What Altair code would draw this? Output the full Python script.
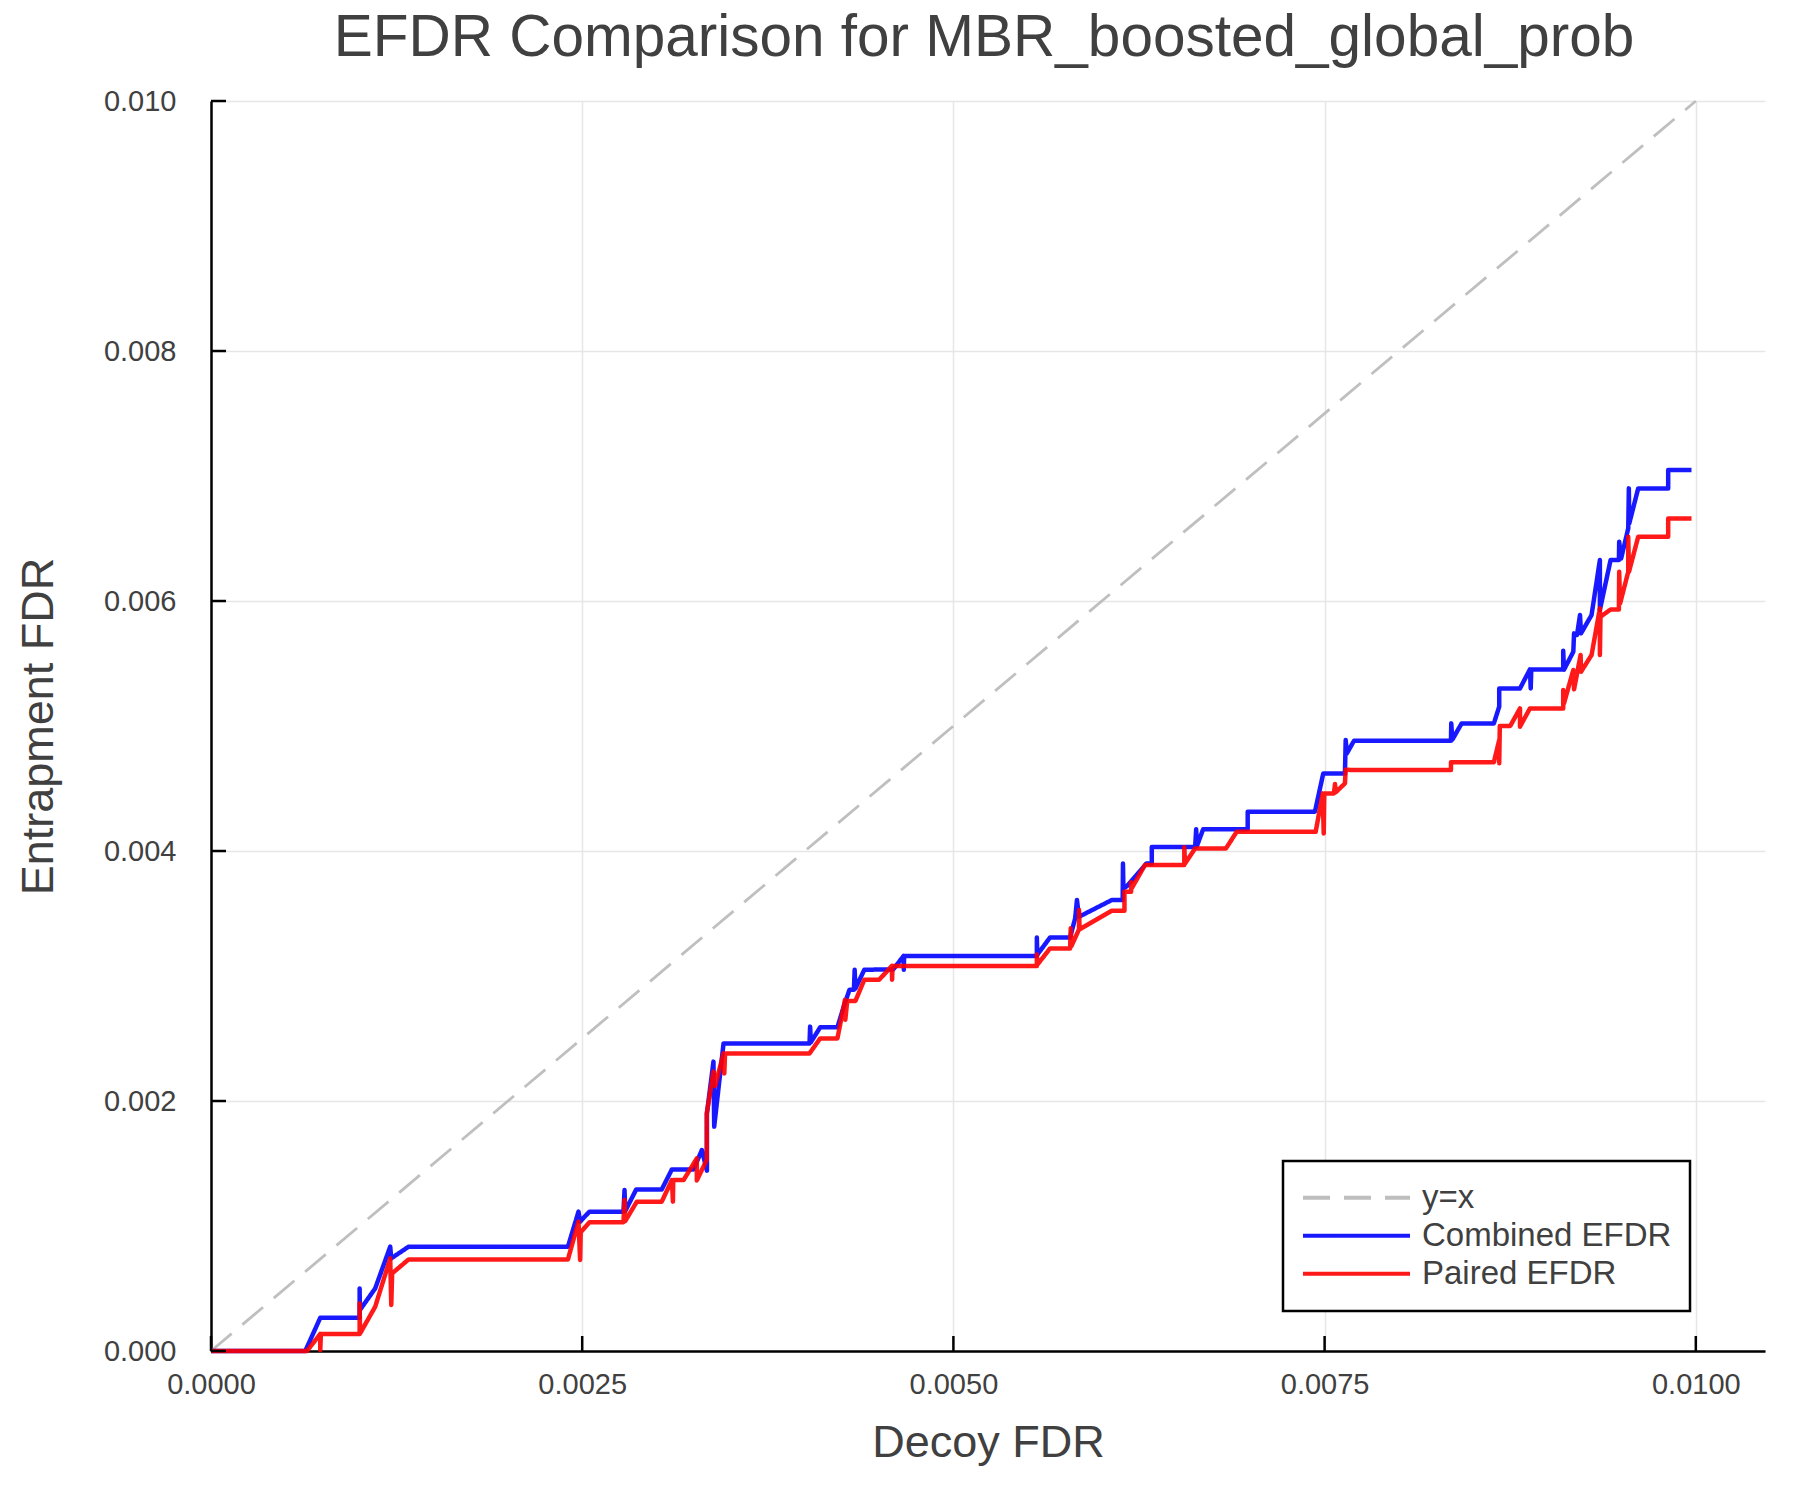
import altair as alt
import pandas as pd

# ---- data ----
combined_x = [0, 0.000635, 0.000736, 0.001001, 0.001001, 0.001003, 0.001106, 0.001207, 0.001214, 0.001331,
              0.002404, 0.002475, 0.002486, 0.002549, 0.002778, 0.002785, 0.002790, 0.002864, 0.003036, 0.003104,
              0.003250, 0.003306, 0.003340, 0.003340, 0.003384, 0.003389, 0.003452, 0.004031, 0.004035, 0.004040,
              0.004103, 0.004219, 0.004260, 0.004300, 0.004330, 0.004335, 0.004340, 0.004400, 0.004595, 0.004664,
              0.004666, 0.004668, 0.005562, 0.005562, 0.005565, 0.005651, 0.005786, 0.005820, 0.005832, 0.005846,
              0.006067, 0.006140, 0.006142, 0.006145, 0.006170, 0.006300, 0.006336, 0.006336, 0.006628, 0.006635,
              0.006640, 0.006682, 0.006982, 0.006982, 0.007435, 0.007491, 0.007637, 0.007642, 0.007650, 0.007698,
              0.008351, 0.008353, 0.008360, 0.008423, 0.008640, 0.008676, 0.008676, 0.008816, 0.008883, 0.008888,
              0.008892, 0.009107, 0.009107, 0.009112, 0.009175, 0.009180, 0.009200, 0.009220, 0.009227, 0.009298,
              0.009354, 0.009354, 0.009426, 0.009482, 0.009484, 0.009497, 0.009545, 0.009549, 0.009552, 0.009612,
              0.009814, 0.009814, 0.009971]
combined_y = [0, 0, 0.000266, 0.000266, 0.000501, 0.000328, 0.000501, 0.000835, 0.000741, 0.000835,
              0.000835, 0.001115, 0.001035, 0.001115, 0.001115, 0.001288, 0.001120, 0.001293, 0.001293, 0.001453,
              0.001453, 0.001608, 0.001443, 0.001901, 0.002315, 0.001795, 0.002461, 0.002461, 0.002595, 0.002470,
              0.002590, 0.002590, 0.002750, 0.002890, 0.002890, 0.003050, 0.002900, 0.003050, 0.003053, 0.003160,
              0.003050, 0.003160, 0.003160, 0.003309, 0.003170, 0.003309, 0.003309, 0.003461, 0.003608, 0.003474,
              0.003608, 0.003608, 0.003900, 0.003700, 0.003720, 0.003900, 0.003900, 0.004032, 0.004032, 0.004174,
              0.004040, 0.004174, 0.004174, 0.004315, 0.004315, 0.004621, 0.004621, 0.004888, 0.004781, 0.004882,
              0.004882, 0.005021, 0.004890, 0.005021, 0.005021, 0.005155, 0.005301, 0.005301, 0.005453, 0.005300,
              0.005453, 0.005453, 0.005602, 0.005450, 0.005594, 0.005741, 0.005728, 0.005888, 0.005741, 0.005888,
              0.006328, 0.005928, 0.006328, 0.006328, 0.006474, 0.006340, 0.006581, 0.006901, 0.006621, 0.006901,
              0.006901, 0.007048, 0.007048]

paired_x = [0, 0.000646, 0.000736, 0.000736, 0.000740, 0.001001, 0.001001, 0.001004, 0.001106, 0.001207,
            0.001214, 0.001220, 0.001331, 0.002404, 0.002475, 0.002486, 0.002490, 0.002549, 0.002778, 0.002785,
            0.002790, 0.002868, 0.003036, 0.003104, 0.003111, 0.003113, 0.003183, 0.003272, 0.003272, 0.003339,
            0.003339, 0.003384, 0.003395, 0.003452, 0.003457, 0.003462, 0.004031, 0.004103, 0.004219, 0.004270,
            0.004272, 0.004285, 0.004340, 0.004400, 0.004500, 0.004585, 0.004587, 0.004590, 0.005562, 0.005562,
            0.005565, 0.005651, 0.005786, 0.005790, 0.005795, 0.005846, 0.005846, 0.005850, 0.006067, 0.006152,
            0.006152, 0.006197, 0.006197, 0.006200, 0.006290, 0.006555, 0.006555, 0.006560, 0.006628, 0.006836,
            0.006908, 0.007440, 0.007487, 0.007494, 0.007498, 0.007563, 0.007570, 0.007575, 0.007637, 0.007642,
            0.007698, 0.008351, 0.008351, 0.008640, 0.008676, 0.008676, 0.008680, 0.008750, 0.008816, 0.008816,
            0.008883, 0.009107, 0.009107, 0.009112, 0.009175, 0.009180, 0.009224, 0.009227, 0.009298, 0.009354,
            0.009354, 0.009358, 0.009426, 0.009482, 0.009484, 0.009490, 0.009545, 0.009545, 0.009550, 0.009612,
            0.009814, 0.009814, 0.009971]
paired_y = [0, 0, 0.000136, 0.000008, 0.000136, 0.000136, 0.000381, 0.000140, 0.000355, 0.000741,
            0.000368, 0.000621, 0.000733, 0.000733, 0.001035, 0.000728, 0.000950, 0.001030, 0.001030, 0.001208,
            0.001040, 0.001195, 0.001195, 0.001368, 0.001195, 0.001368, 0.001368, 0.001541, 0.001365, 0.001530,
            0.001901, 0.002235, 0.002120, 0.002381, 0.002220, 0.002381, 0.002381, 0.002501, 0.002501, 0.002810,
            0.002650, 0.002800, 0.002800, 0.002970, 0.002970, 0.003080, 0.002970, 0.003080, 0.003080, 0.003173,
            0.003090, 0.003221, 0.003221, 0.003381, 0.003240, 0.003373, 0.003528, 0.003373, 0.003522, 0.003522,
            0.003674, 0.003674, 0.003750, 0.003700, 0.003888, 0.003888, 0.004030, 0.003900, 0.004021, 0.004021,
            0.004154, 0.004154, 0.004461, 0.004141, 0.004461, 0.004461, 0.004536, 0.004470, 0.004541, 0.004650,
            0.004648, 0.004648, 0.004710, 0.004710, 0.004888, 0.004703, 0.005000, 0.005000, 0.005141, 0.004995,
            0.005141, 0.005141, 0.005288, 0.005180, 0.005448, 0.005293, 0.005568, 0.005434, 0.005568, 0.005941,
            0.005568, 0.005874, 0.005932, 0.005932, 0.006234, 0.005980, 0.006234, 0.006514, 0.006234, 0.006514,
            0.006514, 0.006661, 0.006661]

diag_x = [0.0, 0.01]
diag_y = [0.0, 0.01]

series_names = ["y=x", "Combined EFDR", "Paired EFDR"]
series_colors = ["#b8b8b8", "#0000ff", "#ff0000"]
series_dash = [[27, 14], [1, 0], [1, 0]]

x_ticks = [0.0, 0.0025, 0.005, 0.0075, 0.01]
y_ticks = [0.0, 0.002, 0.004, 0.006, 0.008, 0.010]

x_domain = [0.0, 0.010466]
y_domain = [0.0, 0.01]

title_text = ["EFDR Comparison for MBR_boosted_global_prob"]

# ---- build table ----
rows = []
for name, xs, ys in [("y=x", diag_x, diag_y), ("Combined EFDR", combined_x, combined_y),
                     ("Paired EFDR", paired_x, paired_y)]:
    for i, (a, b) in enumerate(zip(xs, ys)):
        rows.append({"series": name, "x": a, "y": b, "idx": i})
df = pd.DataFrame(rows)

W, H = 1554, 1250
FONT = "Liberation Sans"
TXT = "#404040"

xscale = alt.Scale(domain=x_domain, nice=False, zero=False)
yscale = alt.Scale(domain=y_domain, nice=False, zero=False)

xaxis = alt.Axis(values=x_ticks, format=".4f", title="Decoy FDR", grid=True, ticks=False,
                 labelPadding=19, labelFontSize=29, titleFontSize=45, labelFlush=False,
                 titleY=105, titleBaseline="alphabetic")
yaxis = alt.Axis(values=y_ticks, format=".3f", title="Entrapment FDR", grid=True, ticks=False,
                 labelPadding=35, labelFontSize=29, titleFontSize=45, labelFlush=False,
                 titleX=-159, titleY=625, titleAngle=270, titleBaseline="alphabetic", titleAlign="center")

leg = alt.Legend(title=None, orient="none", legendX=1072, legendY=1060,
                 symbolType="stroke", symbolSize=11449, symbolStrokeWidth=4,
                 labelFontSize=33, labelLimit=600, clipHeight=37.7, rowPadding=0,
                 labelOffset=10, padding=18)
color = alt.Color("series:N", scale=alt.Scale(domain=series_names, range=series_colors), legend=leg)
dash = alt.StrokeDash("series:N", scale=alt.Scale(domain=series_names, range=series_dash), legend=leg)

base = alt.Chart(df).encode(
    x=alt.X("x:Q", scale=xscale, axis=xaxis),
    y=alt.Y("y:Q", scale=yscale, axis=yaxis),
    color=color,
    strokeDash=dash,
    order=alt.Order("idx:Q"),
)

diag = base.transform_filter(alt.datum.series == "y=x").mark_line(strokeWidth=2.8, opacity=0.9)
comb = base.transform_filter(alt.datum.series == "Combined EFDR").mark_line(strokeWidth=4.5, opacity=0.9, strokeJoin="round")
pair = base.transform_filter(alt.datum.series == "Paired EFDR").mark_line(strokeWidth=4.5, opacity=0.9, strokeJoin="round")

xt = alt.Chart(pd.DataFrame({"x": x_ticks})).mark_rule(color="black", strokeWidth=2.5).encode(
    x=alt.X("x:Q", scale=xscale, axis=xaxis), y=alt.value(H), y2=alt.value(H - 15))
yt = alt.Chart(pd.DataFrame({"y": y_ticks})).mark_rule(color="black", strokeWidth=2.5).encode(
    y=alt.Y("y:Q", scale=yscale, axis=yaxis), x=alt.value(0), x2=alt.value(15))

title = alt.Chart(pd.DataFrame({"t": title_text})).mark_text(
    font=FONT, fontSize=58.5, color=TXT, align="center", baseline="alphabetic"
).encode(text="t:N", x=alt.value(W / 2 - 4), y=alt.value(-45))

chart = alt.layer(diag, comb, pair, xt, yt, title).properties(
    width=W, height=H,
    autosize=alt.AutoSizeParams(type="none"),
    padding={"left": 203, "top": 93, "right": 20, "bottom": 130},
).configure_view(strokeWidth=0).configure_axis(
    labelFont=FONT, titleFont=FONT, labelColor=TXT, titleColor=TXT,
    titleFontWeight="normal", domainColor="black", domainWidth=2.5,
    gridColor="#e6e6e6", gridWidth=1.5,
).configure_legend(
    labelFont=FONT, labelColor=TXT, strokeColor="black", strokeWidth=2.5, fillColor="white",
    cornerRadius=0,
)

chart.save("out.html", embed_options={"renderer": "svg", "actions": False})
